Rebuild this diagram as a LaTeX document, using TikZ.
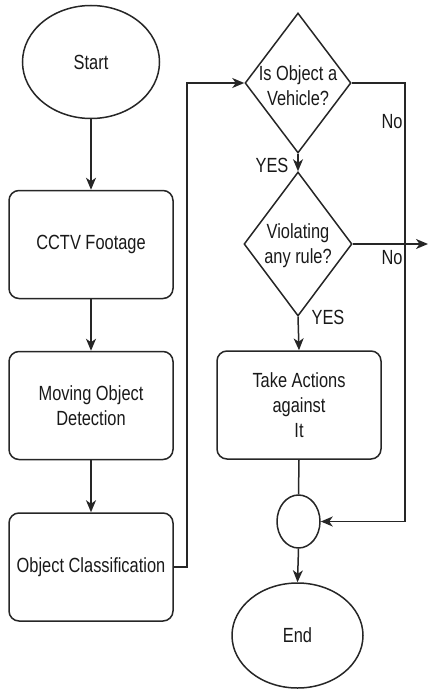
\documentclass[tikz,border=0pt]{standalone}
\usepackage{fontspec}
\setmainfont[FakeStretch=0.8]{Liberation Sans}
\usetikzlibrary{shapes.geometric,arrows.meta}
\begin{document}
\begin{tikzpicture}[x=1pt,y=-1pt,
  every node/.style={font=\fontsize{20.5}{25}\selectfont, text=black!90},
  line/.style={draw=black!85, line width=1.5pt},
  arr/.style={line, -{Stealth[length=12pt,width=10pt,inset=3.5pt]}},
  term/.style={ellipse, line, inner sep=0pt},
  procbox/.style={rectangle, rounded corners=10pt, line, minimum width=164pt, minimum height=108pt, align=center, inner sep=0pt},
  decision/.style={diamond, line, inner sep=0pt},
  lbl/.style={inner sep=1pt}
]
\useasboundingbox (0,0) rectangle (428,690);

\node[term, minimum width=137pt, minimum height=113pt] (start) at (91,62) {Start};
\node[procbox] (cctv) at (91,244.5) {CCTV Footage};
\node[procbox] (mod) at (91,405.5) {Moving Object\\Detection};
\node[procbox] (oc) at (91,567) {Object Classification};

\node[decision, minimum width=106pt, minimum height=140pt,
      label={[align=center, yshift=-3pt]center:Is Object a\\Vehicle?}] (d1) at (298,83) {};
\node[decision, minimum width=108pt, minimum height=144pt,
      label={[align=center, yshift=-2pt]center:Violating\\any rule?}] (d2) at (298,244) {};
\node[procbox] (act) at (299,405) {Take Actions\\against\\It};
\node[ellipse, line, minimum width=43pt, minimum height=53pt, inner sep=0pt] (circ) at (298.5,521.5) {};
\node[term, minimum width=131pt, minimum height=105pt] (end) at (297.5,635.5) {End};

\coordinate (j1) at (187,83);
\coordinate (j2) at (405,83);
\coordinate (out) at (428,244);

\node[lbl] (no1) at (392,122) {No};
\node[lbl] (no2) at (392,258) {No};
\node[lbl] (yes1) at (272,165) {YES};
\node[lbl] (yes2) at (328,317) {YES};

\draw[arr] (start) -- (cctv);
\draw[arr] (cctv) -- (mod);
\draw[arr] (mod) -- (oc);
\draw[arr] (oc.east) -| (j1) -- (d1.west);
\draw[arr] (d1.south) -- (d2.north);
\draw[arr] (d1.east) -- (j2) |- (circ.east);
\draw[arr] (d2.east) -- (out);
\draw[arr] (d2.south) -- (act.north);
\draw[line] (act.south) -- (circ.north);
\draw[arr] (circ.south) -- (end.north);
\end{tikzpicture}
\end{document}
